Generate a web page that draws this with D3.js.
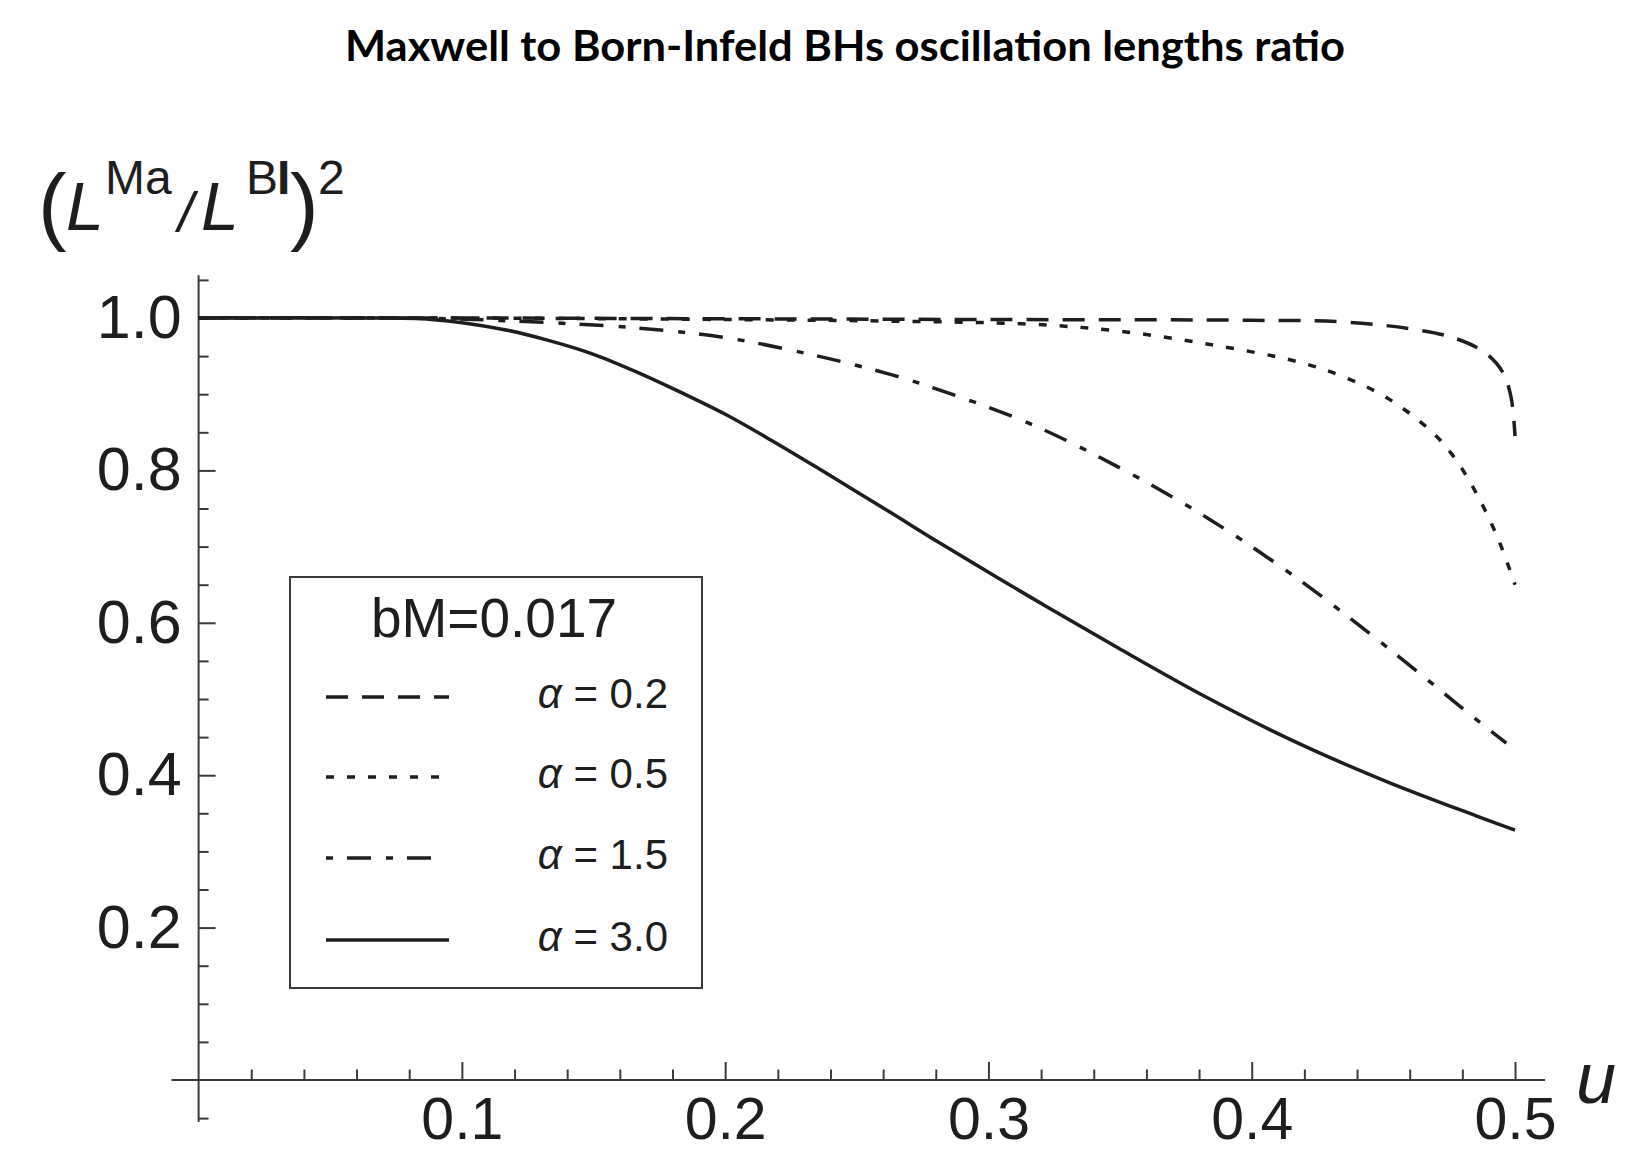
<!DOCTYPE html>
<html>
<head>
<meta charset="utf-8">
<script src="https://cdn.jsdelivr.net/npm/d3@7"></script>
<style>
  body { margin: 0; background: #fff; }
  svg { display: block; }
</style>
</head>
<body>
<svg id="canvas"></svg>
<script>
// curves: [u, (L^Ma/L^BI)^2]
const alpha02 = [[0, 1.0], [0.1, 1.0], [0.2, 0.999], [0.3, 0.998], [0.4, 0.997], [0.434, 0.995],
    [0.46, 0.986], [0.4767, 0.974], [0.4884, 0.955], [0.4953, 0.929], [0.4985, 0.896], [0.5, 0.845]];
const alpha05 = [[0, 1.0], [0.1, 1.0], [0.2, 0.998], [0.26, 0.996], [0.3153, 0.992], [0.349, 0.983],
    [0.383, 0.966], [0.417, 0.943], [0.434, 0.924], [0.451, 0.896], [0.468, 0.852], [0.4765, 0.819],
    [0.485, 0.772], [0.4935, 0.711], [0.5, 0.65]];
const alpha15 = [[0, 1.0], [0.08, 1.0], [0.12, 0.996], [0.166, 0.987], [0.2004, 0.974], [0.234, 0.951],
    [0.2627, 0.926], [0.281, 0.906], [0.3153, 0.862], [0.349, 0.805], [0.383, 0.738], [0.417, 0.659],
    [0.451, 0.569], [0.485, 0.474], [0.4967, 0.442]];
const alpha30 = [[0, 1.0], [0.06, 1.0], [0.0884, 0.998], [0.1157, 0.985], [0.1325, 0.971], [0.1495, 0.953],
    [0.1665, 0.929], [0.1834, 0.902], [0.2004, 0.873], [0.2173, 0.840], [0.2343, 0.805], [0.2627, 0.745],
    [0.2814, 0.705], [0.3153, 0.635], [0.3493, 0.567], [0.383, 0.502], [0.417, 0.443], [0.451, 0.392],
    [0.485, 0.347], [0.5, 0.328]];

const seriesNames = ["α = 0.2", "α = 0.5", "α = 1.5", "α = 3.0"];
const seriesData = [alpha02, alpha05, alpha15, alpha30];
const dashPatterns = ["22,14", "8,13", "7,14,24,15", null];

const xMajorTicks = [0.1, 0.2, 0.3, 0.4, 0.5];
const yMajorTicks = [0.2, 0.4, 0.6, 0.8, 1.0];
const legendTitle = "bM=0.017";
const chartTitle = "Maxwell to Born-Infeld BHs oscillation lengths ratio";

const width = 1639;
const height = 1151;
const ink = "#1e1e1e";
const axisInk = "#3a3a3a";

const svg = d3.select("#canvas")
    .attr("width", width)
    .attr("height", height)
    .style("font-family", "'Liberation Sans', Arial, sans-serif");

const x = d3.scaleLinear().domain([0, 0.5]).range([198.6, 1515]);
const y = d3.scaleLinear().domain([0, 1]).range([1080, 318]);

// title
svg.append("text")
    .attr("x", 345)
    .attr("y", 61)
    .attr("textLength", 1000)
    .attr("lengthAdjust", "spacingAndGlyphs")
    .style("font-family", "Lato, 'Open Sans', sans-serif")
    .style("font-weight", "bold")
    .style("font-size", "42px")
    .attr("fill", "#000")
    .text(chartTitle);

// axes lines
const axes = svg.append("g").attr("stroke", axisInk).attr("stroke-width", 2);
axes.append("line")
    .attr("x1", x(-0.0103)).attr("x2", x(0.5114))
    .attr("y1", y(0)).attr("y2", y(0));
axes.append("line")
    .attr("x1", x(0)).attr("x2", x(0))
    .attr("y1", y(-0.055)).attr("y2", y(1.056));

// x ticks
const xMinor = d3.range(1, 25).map(i => i * 0.02).filter(v => Math.abs(v * 10 - Math.round(v * 10)) > 1e-6);
const xAxisG = svg.append("g")
    .attr("transform", `translate(0, ${y(0)})`)
    .call(d3.axisBottom(x).tickValues(xMajorTicks).tickSize(-18).tickPadding(17).tickFormat(d3.format(".1f")));
xAxisG.select(".domain").remove();
xAxisG.selectAll(".tick line").attr("stroke", axisInk).attr("stroke-width", 2);
xAxisG.selectAll(".tick text").attr("fill", ink).style("font-size", "59px")
    .style("font-family", "'Liberation Sans', Arial, sans-serif");

const xMinorG = svg.append("g")
    .attr("transform", `translate(0, ${y(0)})`)
    .call(d3.axisBottom(x).tickValues(xMinor).tickSize(-10.5).tickFormat(""));
xMinorG.select(".domain").remove();
xMinorG.selectAll(".tick line").attr("stroke", axisInk).attr("stroke-width", 2);

// y ticks
const yMinor = d3.range(-1, 22).map(i => i * 0.05).filter(v => Math.abs(v * 5 - Math.round(v * 5)) > 1e-6);
const yAxisG = svg.append("g")
    .attr("transform", `translate(${x(0)}, 0)`)
    .call(d3.axisLeft(y).tickValues(yMajorTicks).tickSize(-17).tickPadding(17).tickFormat(d3.format(".1f")));
yAxisG.select(".domain").remove();
yAxisG.selectAll(".tick line").attr("stroke", axisInk).attr("stroke-width", 2);
yAxisG.selectAll(".tick text").attr("fill", ink).style("font-size", "61px")
    .style("font-family", "'Liberation Sans', Arial, sans-serif");

const yMinorG = svg.append("g")
    .attr("transform", `translate(${x(0)}, 0)`)
    .call(d3.axisLeft(y).tickValues(yMinor).tickSize(-10).tickFormat(""));
yMinorG.select(".domain").remove();
yMinorG.selectAll(".tick line").attr("stroke", axisInk).attr("stroke-width", 2);

// axis titles
const yTitle = svg.append("text").attr("fill", ink);
yTitle.append("tspan").attr("x", 38).attr("y", 234).style("font-size", "86px").text("(");
yTitle.append("tspan").attr("x", 66).attr("y", 230).style("font-size", "68px").style("font-style", "italic").text("L");
yTitle.append("tspan").attr("x", 105).attr("y", 194).style("font-size", "48px").text("Ma");
yTitle.append("tspan").attr("x", 178).attr("y", 231).style("font-size", "56px").style("font-style", "italic").text("/");
yTitle.append("tspan").attr("x", 201).attr("y", 230).style("font-size", "68px").style("font-style", "italic").text("L");
yTitle.append("tspan").attr("x", 246).attr("y", 194).style("font-size", "48px").text("B");
yTitle.append("tspan").attr("x", 277).attr("y", 194).style("font-size", "48px").style("font-weight", "bold").text("I");
yTitle.append("tspan").attr("x", 290).attr("y", 234).style("font-size", "86px").text(")");
yTitle.append("tspan").attr("x", 318).attr("y", 194).style("font-size", "48px").text("2");

svg.append("text")
    .attr("x", 1576).attr("y", 1103)
    .attr("fill", ink)
    .style("font-size", "72px").style("font-style", "italic")
    .text("u");

// curves
const line = d3.line()
    .x(d => x(d[0]))
    .y(d => y(d[1]))
    .curve(d3.curveCatmullRom.alpha(0.5));

svg.append("g").selectAll("path")
    .data(seriesData)
    .join("path")
    .attr("d", d => line(d))
    .attr("fill", "none")
    .attr("stroke", ink)
    .attr("stroke-width", 3.5)
    .attr("stroke-dasharray", (d, i) => dashPatterns[i]);

// legend
const legend = svg.append("g");
legend.append("rect")
    .attr("x", 290).attr("y", 577)
    .attr("width", 412).attr("height", 411)
    .attr("fill", "#fff")
    .attr("stroke", axisInk).attr("stroke-width", 2);
legend.append("text")
    .attr("x", 494).attr("y", 637)
    .attr("text-anchor", "middle")
    .attr("fill", ink)
    .style("font-size", "55px")
    .text(legendTitle);

const rowY = [697, 777, 858, 940];
const sampleEnd = [449, 449, 434, 449];
seriesNames.forEach((name, i) => {
    legend.append("line")
        .attr("x1", 326).attr("x2", sampleEnd[i])
        .attr("y1", rowY[i]).attr("y2", rowY[i])
        .attr("stroke", ink).attr("stroke-width", 3.5)
        .attr("stroke-dasharray", dashPatterns[i]);
    const t = legend.append("text")
        .attr("x", 668).attr("y", rowY[i] + 11)
        .attr("text-anchor", "end")
        .attr("fill", ink)
        .style("font-size", "42px");
    t.append("tspan").style("font-style", "italic").text(name.slice(0, 1));
    t.append("tspan").text(name.slice(1));
});
</script>
</body>
</html>
